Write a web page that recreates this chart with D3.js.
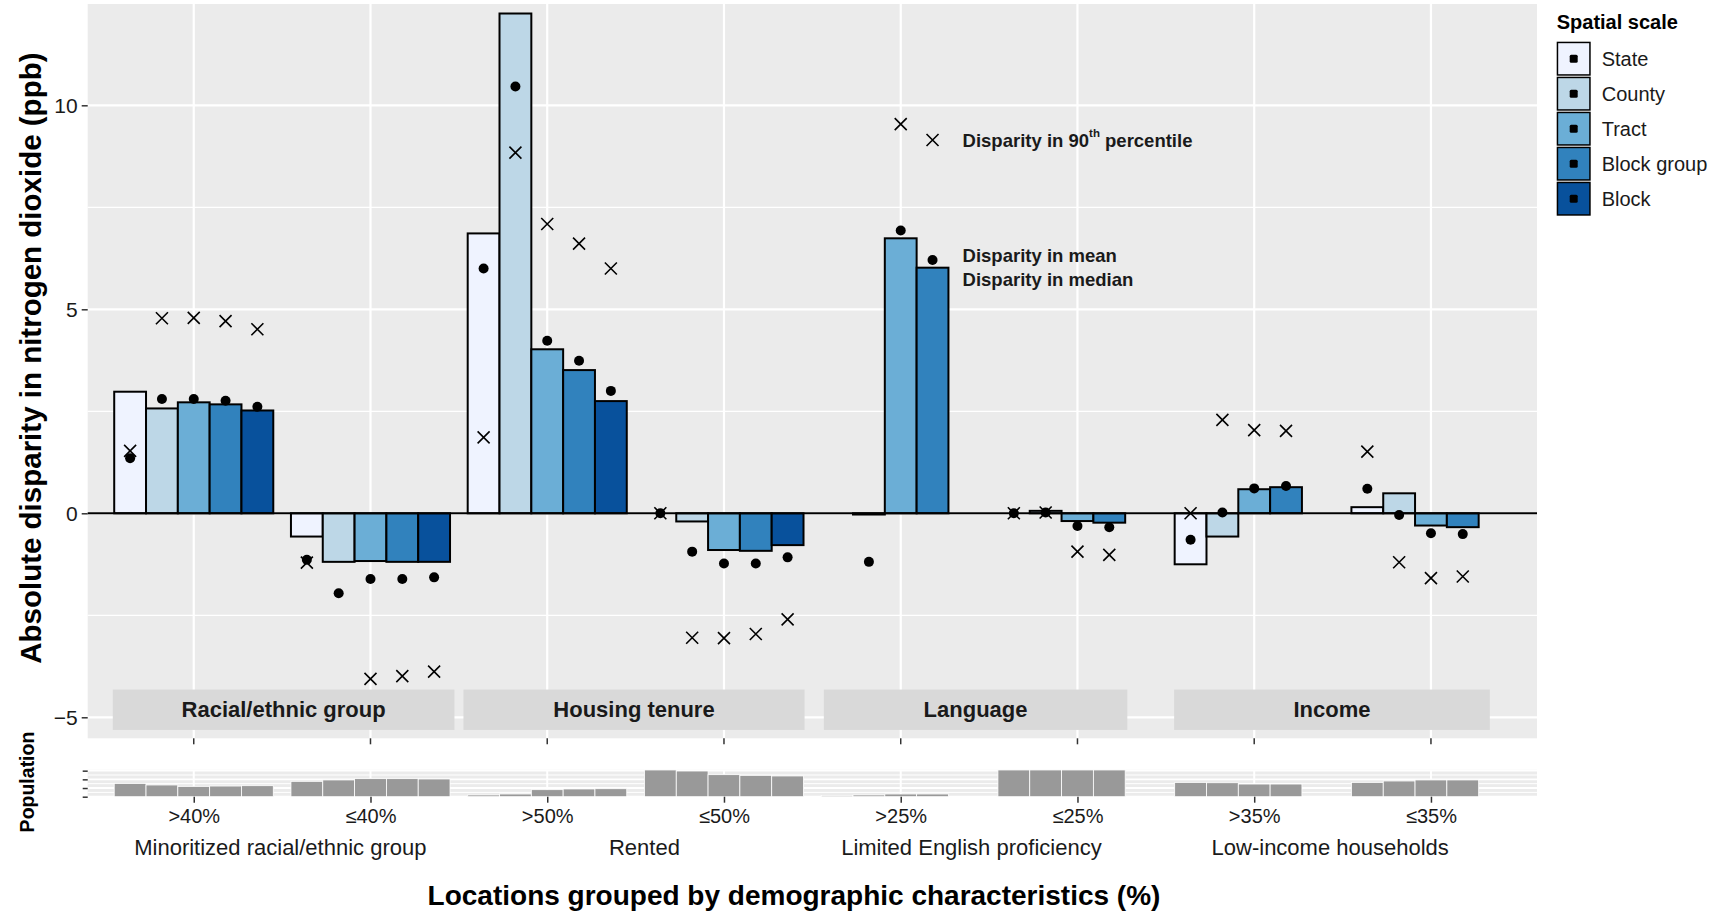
<!DOCTYPE html>
<html>
<head>
<meta charset="utf-8">
<script src="https://cdn.jsdelivr.net/npm/d3@7/dist/d3.min.js"></script>
<style>
  body { margin: 0; background: #ffffff; }
  svg { display: block; font-family: "Liberation Sans", Arial, Helvetica, sans-serif; }
</style>
</head>
<body>
<svg id="chart" width="1718" height="914"></svg>
<script>
// ---- Data ----------------------------------------------------------------
const categories = [">40%", "≤40%", ">50%", "≤50%", ">25%", "≤25%", ">35%", "≤35%"];
const groupLabels = ["Minoritized racial/ethnic group", "Rented", "Limited English proficiency", "Low-income households"];
const stripLabels = ["Racial/ethnic group", "Housing tenure", "Language", "Income"];
const scales = ["State", "County", "Tract", "Block group", "Block"];
const scaleColors = ["#eff3ff", "#bdd7e7", "#6baed6", "#3182bd", "#08519c"];

// Disparity in median (bars), ppb
const medianState      = [2.98, -0.57, 6.86,  0.00, null,  0.00, -1.25,  0.15];
const medianCounty     = [2.57, -1.19, 12.25, -0.20, -0.03, 0.06, -0.57,  0.49];
const medianTract      = [2.72, -1.17, 4.02, -0.90,  6.74, -0.19,  0.59, -0.30];
const medianBlockGroup = [2.67, -1.19, 3.51, -0.92,  6.02, -0.23,  0.64, -0.34];
const medianBlock      = [2.52, -1.19, 2.75, -0.78,  null,  null,  null,  null];

// Disparity in mean (dots), ppb
const meanState      = [1.35, -1.14, 6.00,  0.00, null,  0.00, -0.65,  0.60];
const meanCounty     = [2.80, -1.96, 10.46, -0.94, -1.19, 0.02,  0.02, -0.04];
const meanTract      = [2.80, -1.61, 4.23, -1.23,  6.93, -0.31,  0.61, -0.49];
const meanBlockGroup = [2.76, -1.61, 3.74, -1.23,  6.21, -0.34,  0.67, -0.51];
const meanBlock      = [2.61, -1.57, 3.00, -1.08,  null,  null,  null,  null];

// Disparity in 90th percentile (crosses), ppb
const p90State      = [1.53, -1.21, 1.86,  0.00, null,  0.00,  0.00,  1.51];
const p90County     = [4.78,  null, 8.84, -3.05, null,  0.02,  2.29, -1.20];
const p90Tract      = [4.79, -4.06, 7.09, -3.06, 9.54, -0.94,  2.04, -1.59];
const p90BlockGroup = [4.71, -3.99, 6.61, -2.96, 9.15, -1.02,  2.02, -1.55];
const p90Block      = [4.51, -3.88, 6.00, -2.60, null,  null,  null,  null];

// Population in each location group (millions)
const popState      = [15.3, 17.7, 2.0, 30.8, 1.5, 30.8, 16.5, 16.5];
const popCounty     = [13.5, 19.3, 3.1, 29.6, 2.0, 30.8, 16.1, 18.1];
const popTract      = [11.9, 20.8, 8.1, 25.4, 3.1, 30.8, 14.6, 19.3];
const popBlockGroup = [12.3, 20.8, 8.9, 24.6, 3.1, 30.8, 14.6, 19.3];
const popBlock      = [12.7, 20.4, 9.2, 23.9, null, null, null, null];

const yTicks = [-5, 0, 5, 10];
const yMinor = [-2.5, 2.5, 7.5];
const popTicks = [0, 10, 20, 30];
const popMinor = [5, 15, 25];

// ---- Assemble long-format rows --------------------------------------------
const medians = [medianState, medianCounty, medianTract, medianBlockGroup, medianBlock];
const means = [meanState, meanCounty, meanTract, meanBlockGroup, meanBlock];
const p90s = [p90State, p90County, p90Tract, p90BlockGroup, p90Block];
const pops = [popState, popCounty, popTract, popBlockGroup, popBlock];
const rows = [];
categories.forEach((c, i) => {
  scales.forEach((s, j) => {
    rows.push({ cat: i, scale: j, median: medians[j][i], mean: means[j][i], p90: p90s[j][i], pop: pops[j][i] });
  });
});

// ---- Layout ---------------------------------------------------------------
const svg = d3.select("#chart");
const panel = { left: 87.7, right: 1537, top: 4, bottom: 738.3 };
const popPanel = { top: 769.8, bottom: 796.7 };

const x = d3.scaleLinear().domain([-0.6, 7.6]).range([panel.left, panel.right]);
const y = d3.scaleLinear().domain([-5.515, 12.483]).range([panel.bottom, panel.top]);
const yPop = d3.scaleLinear().domain([0, 31]).range([popPanel.bottom, popPanel.top]);
const color = d3.scaleOrdinal().domain(d3.range(5)).range(scaleColors);

const dodge = 0.9, slotW = dodge / 5;
const slotCenter = (i, j) => i - dodge / 2 + slotW * (j + 0.5);

// ---- Main panel -----------------------------------------------------------
svg.append("rect")
  .attr("x", panel.left).attr("y", panel.top)
  .attr("width", panel.right - panel.left).attr("height", panel.bottom - panel.top)
  .attr("fill", "#ebebeb");

const grid = svg.append("g");
grid.selectAll(".ymin").data(yMinor).join("line")
  .attr("x1", panel.left).attr("x2", panel.right)
  .attr("y1", d => y(d)).attr("y2", d => y(d))
  .attr("stroke", "#ffffff").attr("stroke-width", 1.2);
grid.selectAll(".ymaj").data(yTicks).join("line")
  .attr("x1", panel.left).attr("x2", panel.right)
  .attr("y1", d => y(d)).attr("y2", d => y(d))
  .attr("stroke", "#ffffff").attr("stroke-width", 2.2);
grid.selectAll(".xmaj").data(d3.range(categories.length)).join("line")
  .attr("x1", d => x(d)).attr("x2", d => x(d))
  .attr("y1", panel.top).attr("y2", panel.bottom)
  .attr("stroke", "#ffffff").attr("stroke-width", 2.2);

// Facet-style group labels drawn as boxes inside the panel
const stripSpans = [[-0.458, 1.475], [1.526, 3.456], [3.565, 5.282], [5.547, 7.333]];
const strips = svg.append("g");
stripSpans.forEach((sp, k) => {
  strips.append("rect")
    .attr("x", x(sp[0])).attr("width", x(sp[1]) - x(sp[0]))
    .attr("y", y(-4.32)).attr("height", y(-5.31) - y(-4.32))
    .attr("fill", "#d9d9d9");
  strips.append("text")
    .attr("x", (x(sp[0]) + x(sp[1])) / 2).attr("y", y(-4.815))
    .attr("text-anchor", "middle").attr("dominant-baseline", "central")
    .attr("font-size", 22).attr("font-weight", "bold").attr("fill", "#1a1a1a")
    .text(stripLabels[k]);
});

// Bars (median)
svg.append("g").selectAll("rect")
  .data(rows.filter(d => d.median !== null))
  .join("rect")
  .attr("x", d => x(slotCenter(d.cat, d.scale) - slotW / 2))
  .attr("width", d => x(slotW) - x(0))
  .attr("y", d => y(Math.max(0, d.median)))
  .attr("height", d => Math.abs(y(d.median) - y(0)))
  .attr("fill", d => color(d.scale))
  .attr("stroke", "#000000").attr("stroke-width", 2);

// Zero line
svg.append("line")
  .attr("x1", panel.left).attr("x2", panel.right)
  .attr("y1", y(0)).attr("y2", y(0))
  .attr("stroke", "#000000").attr("stroke-width", 2);

// Dots (mean)
svg.append("g").selectAll("circle")
  .data(rows.filter(d => d.mean !== null))
  .join("circle")
  .attr("cx", d => x(slotCenter(d.cat, d.scale)))
  .attr("cy", d => y(d.mean))
  .attr("r", 5).attr("fill", "#000000");

// Crosses (90th percentile)
const crossPath = "M-6,-6L6,6M-6,6L6,-6";
svg.append("g").selectAll("path")
  .data(rows.filter(d => d.p90 !== null))
  .join("path")
  .attr("transform", d => `translate(${x(slotCenter(d.cat, d.scale))},${y(d.p90)})`)
  .attr("d", crossPath)
  .attr("stroke", "#000000").attr("stroke-width", 1.6).attr("fill", "none");

// Marker annotations
const ann = svg.append("g").attr("font-size", 18.5).attr("font-weight", "bold").attr("fill", "#1a1a1a");
const annX = x(4.35);
const t90 = ann.append("text").attr("x", annX).attr("y", y(9.15)).attr("dominant-baseline", "central");
t90.append("tspan").text("Disparity in 90");
t90.append("tspan").attr("font-size", 11.5).attr("dy", -7).text("th");
t90.append("tspan").attr("dy", 7).text(" percentile");
ann.append("text").attr("x", annX).attr("y", y(6.33)).attr("dominant-baseline", "central").text("Disparity in mean");
ann.append("text").attr("x", annX).attr("y", y(5.74)).attr("dominant-baseline", "central").text("Disparity in median");

// Y axis
const yAxis = svg.append("g")
  .attr("transform", `translate(${panel.left},0)`)
  .call(d3.axisLeft(y).tickValues(yTicks).tickSize(6).tickPadding(4).tickFormat(d => d < 0 ? "\u2212" + Math.abs(d) : d));
yAxis.select(".domain").remove();
yAxis.selectAll(".tick line").attr("stroke", "#333333").attr("stroke-width", 1.5);
yAxis.selectAll(".tick text").attr("font-size", 21).attr("fill", "#1a1a1a").attr("font-family", null);

// Bottom ticks of main panel
svg.append("g").selectAll("line").data(d3.range(categories.length)).join("line")
  .attr("x1", d => x(d)).attr("x2", d => x(d))
  .attr("y1", panel.bottom).attr("y2", panel.bottom + 6)
  .attr("stroke", "#333333").attr("stroke-width", 1.5);

svg.append("text")
  .attr("transform", `translate(30,${(panel.top + panel.bottom) / 2 - 13}) rotate(-90)`)
  .attr("text-anchor", "middle").attr("dominant-baseline", "central")
  .attr("font-size", 29.5).attr("font-weight", "bold").attr("fill", "#000000")
  .text("Absolute disparity in nitrogen dioxide (ppb)");

// ---- Population panel -------------------------------------------------------
svg.append("rect")
  .attr("x", panel.left).attr("y", popPanel.top)
  .attr("width", panel.right - panel.left).attr("height", popPanel.bottom - popPanel.top)
  .attr("fill", "#ebebeb");
const pg = svg.append("g");
pg.selectAll(".pmin").data(popMinor).join("line")
  .attr("x1", panel.left).attr("x2", panel.right)
  .attr("y1", d => yPop(d)).attr("y2", d => yPop(d))
  .attr("stroke", "#ffffff").attr("stroke-width", 1);
pg.selectAll(".pmaj").data(popTicks).join("line")
  .attr("x1", panel.left).attr("x2", panel.right)
  .attr("y1", d => yPop(d)).attr("y2", d => yPop(d))
  .attr("stroke", "#ffffff").attr("stroke-width", 1.8);
pg.selectAll(".pv").data(d3.range(categories.length)).join("line")
  .attr("x1", d => x(d)).attr("x2", d => x(d))
  .attr("y1", popPanel.top).attr("y2", popPanel.bottom)
  .attr("stroke", "#ffffff").attr("stroke-width", 2);

svg.append("g").selectAll("rect")
  .data(rows.filter(d => d.pop !== null))
  .join("rect")
  .attr("x", d => x(slotCenter(d.cat, d.scale) - slotW / 2))
  .attr("width", d => x(slotW) - x(0))
  .attr("y", d => yPop(d.pop))
  .attr("height", d => yPop(0) - yPop(d.pop))
  .attr("fill", "#999999").attr("stroke", "#ffffff").attr("stroke-width", 0.8);

const popAxis = svg.append("g")
  .attr("transform", `translate(${panel.left},0)`)
  .call(d3.axisLeft(yPop).tickValues(popTicks).tickSize(5).tickFormat(""));
popAxis.select(".domain").remove();
popAxis.selectAll(".tick line").attr("stroke", "#333333").attr("stroke-width", 1.5);

const xAxis = svg.append("g")
  .attr("transform", `translate(0,${popPanel.bottom})`)
  .call(d3.axisBottom(x).tickValues(d3.range(categories.length)).tickSize(6).tickPadding(6).tickFormat(i => categories[i]));
xAxis.select(".domain").remove();
xAxis.selectAll(".tick line").attr("stroke", "#333333").attr("stroke-width", 1.5);
xAxis.selectAll(".tick text").attr("font-size", 20).attr("fill", "#1a1a1a").attr("font-family", null);

svg.append("text")
  .attr("transform", `translate(27,782) rotate(-90)`)
  .attr("text-anchor", "middle").attr("dominant-baseline", "central")
  .attr("font-size", 19.5).attr("font-weight", "bold").attr("fill", "#000000")
  .text("Population");

// Variable labels under each pair of categories (positions in category units)
const groupLabelPos = [0.49, 2.55, 4.40, 6.43];
svg.append("g").selectAll("text").data(groupLabels).join("text")
  .attr("x", (d, k) => x(groupLabelPos[k])).attr("y", 847)
  .attr("text-anchor", "middle").attr("dominant-baseline", "central")
  .attr("font-size", 22).attr("fill", "#1a1a1a")
  .text(d => d);

svg.append("text")
  .attr("x", 794).attr("y", 895)
  .attr("text-anchor", "middle").attr("dominant-baseline", "central")
  .attr("font-size", 28).attr("font-weight", "bold").attr("fill", "#000000")
  .text("Locations grouped by demographic characteristics (%)");

// ---- Legend -----------------------------------------------------------------
const legend = svg.append("g").attr("transform", "translate(1556.7,0)");
legend.append("text").attr("x", 0).attr("y", 21.7).attr("dominant-baseline", "central")
  .attr("font-size", 20).attr("font-weight", "bold").attr("fill", "#000000").text("Spatial scale");
const keys = legend.selectAll("g.key").data(scales).join("g")
  .attr("transform", (d, j) => `translate(0,${41.7 + j * 35})`);
keys.append("rect").attr("x", 0.75).attr("y", 0.75).attr("width", 32.5).attr("height", 32.5)
  .attr("fill", (d, j) => color(j)).attr("stroke", "#000000").attr("stroke-width", 1.5);
keys.append("rect").attr("x", 13).attr("y", 13).attr("width", 8).attr("height", 8).attr("rx", 1.5)
  .attr("fill", "#000000");
keys.append("text").attr("x", 45).attr("y", 17).attr("dominant-baseline", "central")
  .attr("font-size", 20).attr("fill", "#1a1a1a").text(d => d);
</script>
</body>
</html>
